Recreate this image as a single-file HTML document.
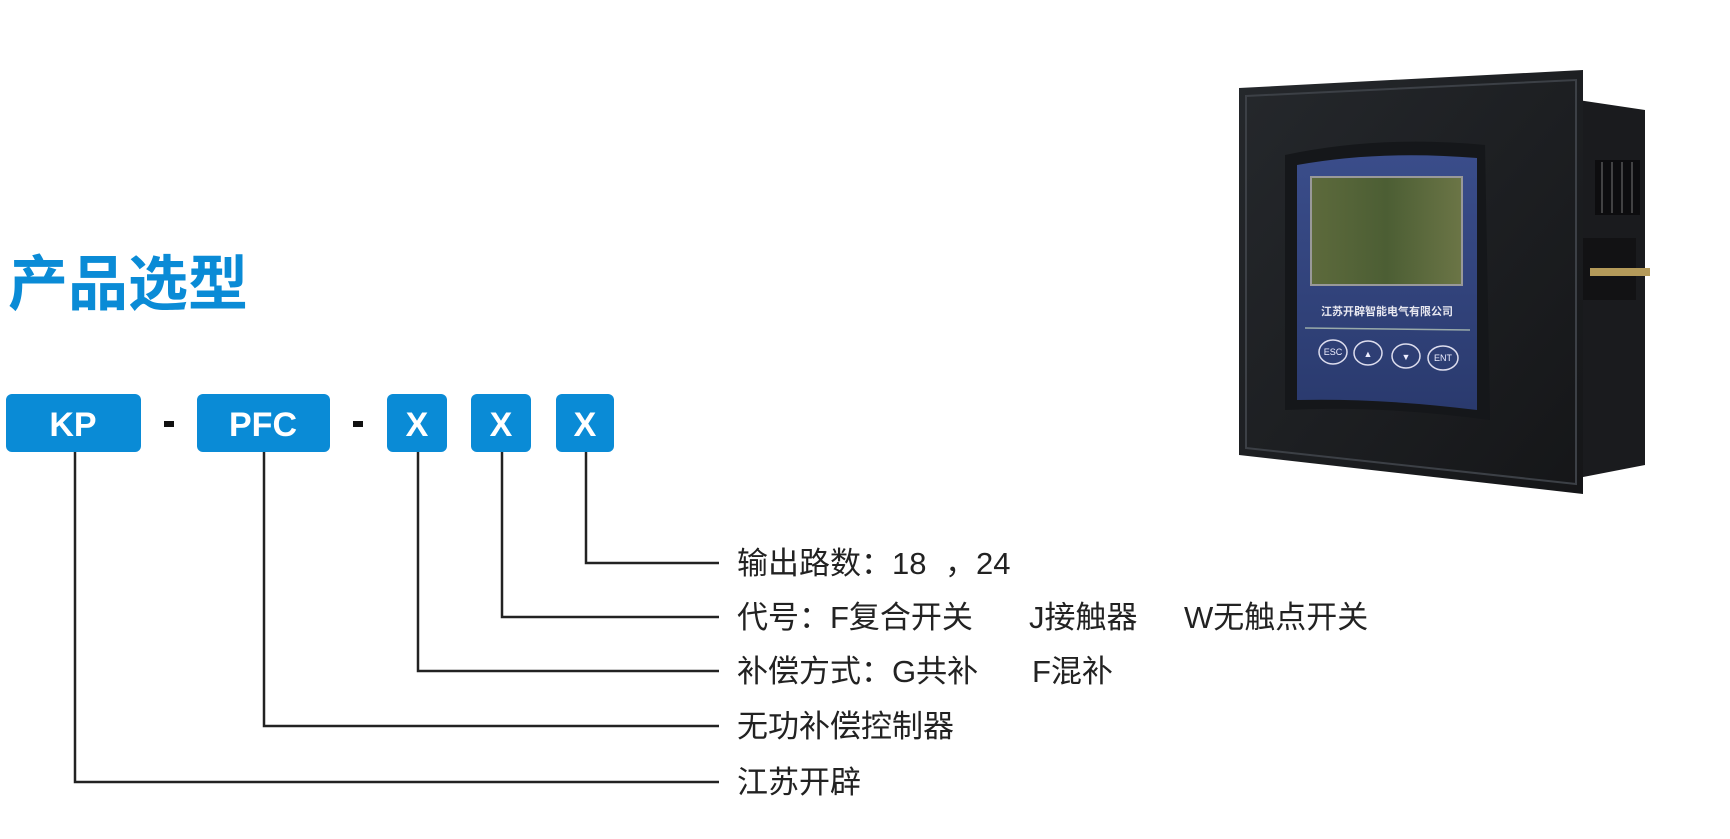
<!DOCTYPE html>
<html><head><meta charset="utf-8"><style>
html,body{margin:0;padding:0;background:#fff;}
svg{display:block}
.t{font-family:"Liberation Sans","Noto Sans CJK SC",sans-serif;font-size:31px;fill:#222;}
.b{font-family:"Liberation Sans",sans-serif;font-weight:bold;font-size:34px;fill:#fff;}
</style></head><body>
<svg width="1730" height="839" viewBox="0 0 1730 839" xmlns="http://www.w3.org/2000/svg">
<defs>
<linearGradient id="g1" x1="0" y1="0" x2="1" y2="1"><stop offset="0" stop-color="#25282c"/><stop offset="1" stop-color="#151618"/></linearGradient>
<linearGradient id="g2" x1="0" y1="0" x2="0" y2="1"><stop offset="0" stop-color="#3a4d8a"/><stop offset="1" stop-color="#2a3a6e"/></linearGradient>
<linearGradient id="g3" x1="0" y1="0" x2="1" y2="0"><stop offset="0" stop-color="#5d6a3c"/><stop offset="0.5" stop-color="#4c5e34"/><stop offset="1" stop-color="#6b7546"/></linearGradient>
</defs>
<text x="8" y="305" font-family="Liberation Sans,Noto Sans CJK SC,sans-serif" font-weight="bold" font-size="60" fill="#0a8bd6">产品选型</text>
<g fill="#0a8bd6">
<rect x="6" y="394" width="135" height="58" rx="6"/>
<rect x="197" y="394" width="133" height="58" rx="6"/>
<rect x="387" y="394" width="60" height="58" rx="6"/>
<rect x="471" y="394" width="60" height="58" rx="6"/>
<rect x="556" y="394" width="58" height="58" rx="6"/>
</g>
<text class="b" x="73" y="436" text-anchor="middle">KP</text>
<text class="b" x="263" y="436" text-anchor="middle">PFC</text>
<text class="b" x="417" y="436" text-anchor="middle">X</text>
<text class="b" x="501" y="436" text-anchor="middle">X</text>
<text class="b" x="585" y="436" text-anchor="middle">X</text>
<rect x="164" y="421" width="10" height="6" fill="#111"/>
<rect x="353" y="421" width="10" height="6" fill="#111"/>
<g stroke="#222" stroke-width="2.5" fill="none">
<polyline points="586,452 586,563 719,563"/>
<polyline points="502,452 502,617 719,617"/>
<polyline points="418,452 418,671 719,671"/>
<polyline points="264,452 264,726 719,726"/>
<polyline points="75,452 75,782 719,782"/>
</g>
<text class="t" y="574"><tspan x="737">输出路数：18</tspan><tspan x="945">，</tspan><tspan x="976">24</tspan></text>
<text class="t" y="628"><tspan x="737">代号：F复合开关</tspan><tspan x="1029">J接触器</tspan><tspan x="1184">W无触点开关</tspan></text>
<text class="t" y="682"><tspan x="737">补偿方式：G共补</tspan><tspan x="1032">F混补</tspan></text>
<text class="t" x="737" y="737">无功补偿控制器</text>
<text class="t" x="737" y="793">江苏开辟</text>
<!-- device -->
<polygon points="1578,100 1645,110 1645,465 1578,478" fill="#1a1b1e"/>
<rect x="1595" y="160" width="45" height="55" fill="#0d0d0f"/>
<g stroke="#555" stroke-width="1.5"><line x1="1602" y1="162" x2="1602" y2="213"/><line x1="1612" y1="162" x2="1612" y2="213"/><line x1="1622" y1="162" x2="1622" y2="213"/><line x1="1632" y1="162" x2="1632" y2="213"/></g>
<rect x="1576" y="238" width="60" height="62" fill="#121214"/>
<rect x="1590" y="268" width="60" height="8" fill="#b49a5a"/>
<polygon points="1239,88 1583,70 1583,494 1239,455" fill="url(#g1)"/>
<polygon points="1246,96 1576,80 1576,484 1246,448" fill="none" stroke="#3c4046" stroke-width="2"/>
<path d="M1285,155 Q1380,135 1485,145 L1490,420 Q1380,405 1285,410 Z" fill="#15171a"/>
<path d="M1297,165 Q1380,150 1477,158 L1477,410 Q1380,398 1297,400 Z" fill="url(#g2)"/>
<rect x="1311" y="177" width="151" height="108" fill="url(#g3)" stroke="#999" stroke-width="2"/>
<text x="1387" y="315" text-anchor="middle" font-family="Noto Sans CJK SC,sans-serif" font-weight="bold" font-size="11" fill="#e8e8f0">江苏开辟智能电气有限公司</text>
<line x1="1305" y1="328" x2="1470" y2="330" stroke="#9aa" stroke-width="1.5"/>
<g fill="none" stroke="#dde" stroke-width="1.5">
<ellipse cx="1333" cy="352" rx="14" ry="12"/><ellipse cx="1368" cy="353" rx="14" ry="12"/><ellipse cx="1406" cy="356" rx="14" ry="12"/><ellipse cx="1443" cy="358" rx="15" ry="12"/>
</g>
<g font-family="Liberation Sans,sans-serif" font-size="9" fill="#eef" text-anchor="middle">
<text x="1333" y="355">ESC</text><text x="1368" y="357">▲</text><text x="1406" y="360">▼</text><text x="1443" y="361">ENT</text>
</g>
</svg>
</body></html>
